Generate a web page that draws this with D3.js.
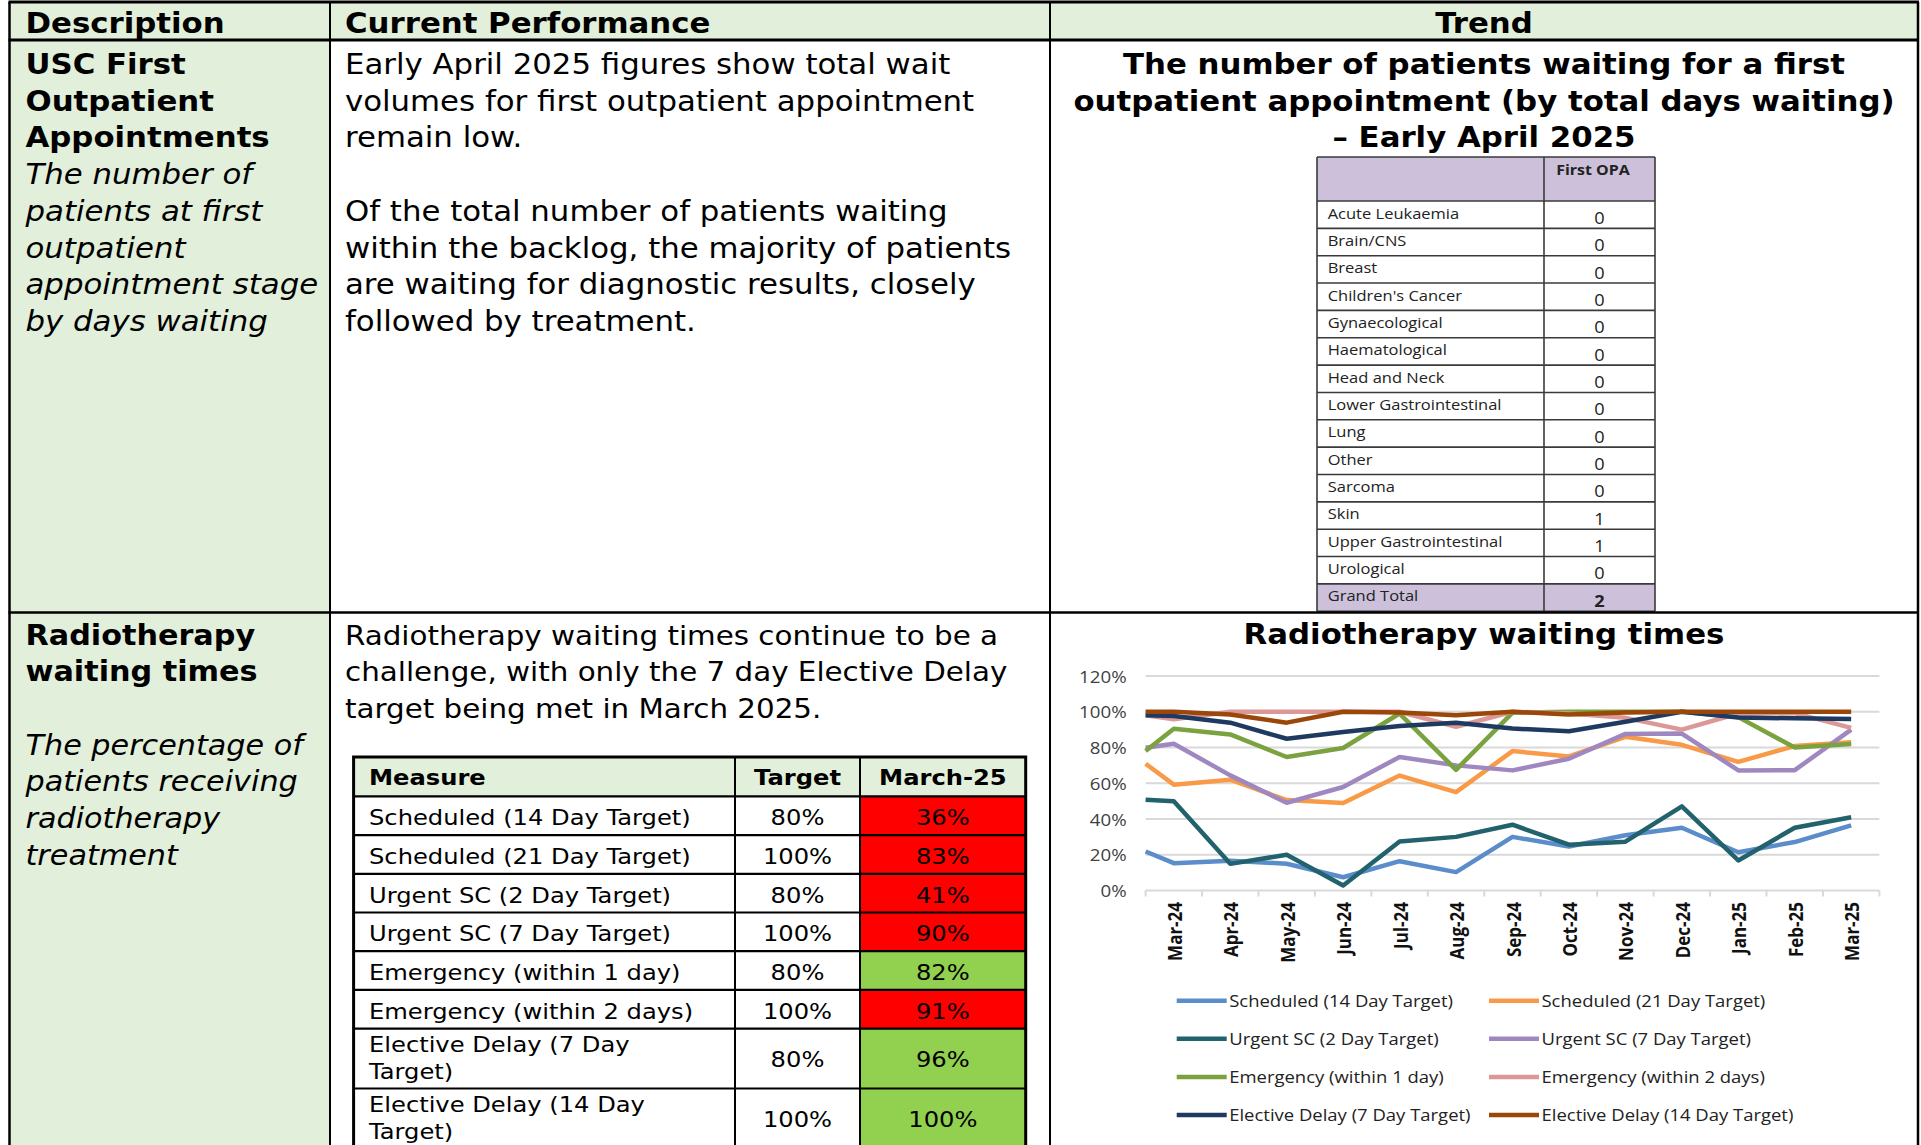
<!DOCTYPE html>
<html>
<head>
<meta charset="utf-8">
<script src="https://cdn.jsdelivr.net/npm/d3@7"></script>
<style>
html, body { margin: 0; padding: 0; background: #fff; }
svg { display: block; }
</style>
</head>
<body>
<div id="page"></div>
<script>
//Data

const headers = ["Description", "Current Performance", "Trend"]

const row1Title = ["USC First", "Outpatient", "Appointments"]
const row1Subtitle = ["The number of", "patients at first", "outpatient", "appointment stage", "by days waiting"]
const row1Text = [
	"Early April 2025 figures show total wait",
	"volumes for first outpatient appointment",
	"remain low.",
	"",
	"Of the total number of patients waiting",
	"within the backlog, the majority of patients",
	"are waiting for diagnostic results, closely",
	"followed by treatment."
]
const opaTitle = [
	"The number of patients waiting for a first",
	"outpatient appointment (by total days waiting)",
	"– Early April 2025"
]
const opaHeader = "First OPA"
const opaSites = ["Acute Leukaemia", "Brain/CNS", "Breast", "Children's Cancer", "Gynaecological",
	"Haematological", "Head and Neck", "Lower Gastrointestinal", "Lung", "Other", "Sarcoma", "Skin",
	"Upper Gastrointestinal", "Urological"]
const opaCounts = [0, 0, 0, 0, 0, 0, 0, 0, 0, 0, 0, 1, 1, 0]
const opaTotalLabel = "Grand Total"
const opaTotal = 2

const row2Title = ["Radiotherapy", "waiting times"]
const row2Subtitle = ["The percentage of", "patients receiving", "radiotherapy", "treatment"]
const row2Text = [
	"Radiotherapy waiting times continue to be a",
	"challenge, with only the 7 day Elective Delay",
	"target being met in March 2025."
]

const tableHeaders = ["Measure", "Target", "March-25"]
const measures = ["Scheduled (14 Day Target)", "Scheduled (21 Day Target)", "Urgent SC (2 Day Target)",
	"Urgent SC (7 Day Target)", "Emergency (within 1 day)", "Emergency (within 2 days)",
	"Elective Delay (7 Day Target)", "Elective Delay (14 Day Target)"]
const targets = [80, 100, 80, 100, 80, 100, 80, 100]
const march25 = [36, 83, 41, 90, 82, 91, 96, 100]

const chartTitle = "Radiotherapy waiting times"
const months = ["Mar-24", "Apr-24", "May-24", "Jun-24", "Jul-24", "Aug-24", "Sep-24",
	"Oct-24", "Nov-24", "Dec-24", "Jan-25", "Feb-25", "Mar-25"]
const yTicks = [0, 20, 40, 60, 80, 100, 120]

// values at the left edge of the plot (the lines run in from the previous month)
const leadIn = [21.8, 70.9, 50.8, 79.9, 78, 98, 98, 100]
const scheduled14 = [15.3, 16.7, 15, 7.4, 16.4, 10.3, 30, 24.6, 30.9, 35.1, 21.4, 27.1, 36.4]
const scheduled21 = [59.2, 62, 50.6, 48.9, 64.3, 55, 78, 75, 86, 81.5, 72, 80.8, 83]
const urgent2 = [49.9, 14.9, 20, 2.8, 27.4, 30, 36.8, 25.6, 27.3, 47.1, 16.8, 35.1, 41]
const urgent7 = [82.1, 64.4, 49.1, 57.9, 74.7, 70, 67.2, 73.7, 87.6, 87.8, 67.2, 67.3, 90]
const emergency1 = [90.5, 87.3, 74.7, 79.7, 99, 67.5, 99.5, 100, 100, 100, 97, 80, 82]
const emergency2 = [95.8, 100, 100, 100, 100, 91.6, 100, 99, 96.6, 90, 99, 99.2, 91]
const elective7 = [97.6, 93.9, 84.9, 88.7, 92, 93.8, 90.6, 89.1, 94.4, 100, 96.8, 96.3, 96]
const elective14 = [100, 98.5, 93.9, 100, 99.6, 98.1, 100, 98.5, 99.6, 100, 100, 100, 100]

const seriesValues = [scheduled14, scheduled21, urgent2, urgent7, emergency1, emergency2, elective7, elective14]
const seriesColors = ["#5b8dcb", "#f99a48", "#22626d", "#9f88c0", "#7aa23f", "#dc9896", "#1f3a60", "#9a4709"]

// Style

// the source screenshot is stretched sideways, text is scaled to match
const SX = 1.1
const VERDANA = "'DejaVu Sans', Verdana, sans-serif"
const CALIBRI = "'Open Sans', Calibri, sans-serif"
const GREEN_BG = "#e2efda"
const LAVENDER = "#ccc0da"
const LH = 36.7

const grid = { left: 9.5, col1: 330, col2: 1050, right: 1918, top: 2, head: 40, mid: 612.5, bottom: 1145 }

const svg = d3.select("#page")
	.append("svg")
	.attr("width", 1921)
	.attr("height", 1145)

/**
 * Adds a line of text, squeezed sideways like the source
 */
function addText(g, x, y, str, o = {}) {
	return g.append("text")
		.attr("transform", `translate(${x},${y}) scale(${SX},1)`)
		.attr("font-family", o.family || VERDANA)
		.attr("font-size", o.size || 28)
		.attr("font-weight", o.weight || "normal")
		.attr("font-style", o.style || "normal")
		.attr("text-anchor", o.anchor || "start")
		.attr("fill", o.fill || "#000")
		.text(str)
}

function addLines(g, x, y0, lines, lh, o) {
	lines.forEach((l, i) => {
		if (l) addText(g, x, y0 + i * lh, l, o)
	})
}

function hline(g, x1, x2, y, w, c) {
	g.append("line").attr("x1", x1).attr("x2", x2).attr("y1", y).attr("y2", y)
		.attr("stroke", c || "#000").attr("stroke-width", w)
}

function vline(g, x, y1, y2, w, c) {
	g.append("line").attr("x1", x).attr("x2", x).attr("y1", y1).attr("y2", y2)
		.attr("stroke", c || "#000").attr("stroke-width", w)
}

/**
 * Page grid: backgrounds, borders and header row
 */
function makeFrame() {
	svg.append("rect").attr("x", grid.left).attr("y", grid.top)
		.attr("width", grid.right - grid.left).attr("height", grid.head - grid.top)
		.attr("fill", GREEN_BG)
	svg.append("rect").attr("x", grid.left).attr("y", grid.head)
		.attr("width", grid.col1 - grid.left).attr("height", grid.bottom - grid.head)
		.attr("fill", GREEN_BG)

	addText(svg, 25.5, 33, headers[0], { weight: "bold" })
	addText(svg, 345, 33, headers[1], { weight: "bold" })
	addText(svg, (grid.col2 + grid.right) / 2, 33, headers[2], { weight: "bold", anchor: "middle" })
}

function makeBorders() {
	hline(svg, grid.left - 1, grid.right + 1, grid.top, 3)
	hline(svg, grid.left - 1, grid.right + 1, grid.head, 3)
	hline(svg, grid.left - 1, grid.right + 1, grid.mid, 2.5)
	vline(svg, grid.left, grid.top, grid.bottom, 2.5)
	vline(svg, grid.col1, grid.top, grid.bottom, 2)
	vline(svg, grid.col2, grid.top, grid.bottom, 2)
	vline(svg, grid.right, grid.top, grid.bottom, 2.5)
}

/**
 * The small First OPA table
 */
function makeOpaTable() {
	const t = { left: 1317, mid: 1544, right: 1655, top: 157, head: 201, rowH: 27.35 }
	const rows = opaSites.map((s, i) => ({ label: s, value: opaCounts[i], total: false }))
		.concat([{ label: opaTotalLabel, value: opaTotal, total: true }])
	const yRow = d3.scaleLinear().domain([0, rows.length]).range([t.head, t.head + rows.length * t.rowH])
	const g = svg.append("g")

	g.append("rect").attr("x", t.left).attr("y", t.top)
		.attr("width", t.right - t.left).attr("height", t.head - t.top).attr("fill", LAVENDER)
	g.selectAll("rect.row")
		.data(rows)
		.join("rect")
		.attr("class", "row")
		.attr("x", t.left).attr("y", (d, i) => yRow(i))
		.attr("width", t.right - t.left).attr("height", t.rowH)
		.attr("fill", d => d.total ? LAVENDER : "#fff")

	addText(g, 1593, t.top + 18, opaHeader, { family: CALIBRI, size: 14.5, weight: "bold", anchor: "middle", fill: "#222" })

	rows.forEach((d, i) => {
		addText(g, t.left + 10.7, yRow(i) + 17.5, d.label, { family: CALIBRI, size: 15, fill: "#222" })
		addText(g, (t.mid + t.right) / 2, yRow(i) + 22.8, d.value, {
			family: CALIBRI, size: 16.5, anchor: "middle", weight: d.total ? "bold" : "normal", fill: "#222"
		})
	})

	// borders
	d3.range(rows.length + 1).forEach(i => hline(g, t.left, t.right, yRow(i), 1.6, "#3a3a3a"))
	hline(g, t.left, t.right, t.top, 1.6, "#3a3a3a")
	vline(g, t.left, t.top, yRow(rows.length), 1.6, "#3a3a3a")
	vline(g, t.mid, t.top, yRow(rows.length), 1.6, "#3a3a3a")
	vline(g, t.right, t.top, yRow(rows.length), 1.6, "#3a3a3a")
}

/**
 * Splits a label into lines that fit the cell
 */
function wrapLabel(str, size, maxW) {
	const probe = svg.append("text").attr("font-family", VERDANA).attr("font-size", size)
	const words = str.split(" ")
	const lines = []
	let cur = ""
	words.forEach(w => {
		const test = cur ? cur + " " + w : w
		probe.text(test)
		if (probe.node().getComputedTextLength() * SX > maxW && cur) {
			lines.push(cur)
			cur = w
		} else {
			cur = test
		}
	})
	lines.push(cur)
	probe.remove()
	return lines
}

/**
 * Measure / Target / March-25 table
 */
function makeMeasureTable() {
	const t = { left: 353.6, c1: 735, c2: 860, right: 1025.7, top: 757, headH: 39.4, rowH: 38.7, lineH: 26.5, pad: 15.4 }
	const size = 22
	const g = svg.append("g")

	const rows = measures.map((m, i) => ({
		lines: wrapLabel(m, size, 338),
		target: targets[i],
		value: march25[i]
	}))
	let y = t.top + t.headH
	rows.forEach(r => {
		r.y = y
		r.h = r.lines.length > 1 ? t.rowH + 21.2 : t.rowH
		y += r.h
	})

	g.append("rect").attr("x", t.left).attr("y", t.top)
		.attr("width", t.right - t.left).attr("height", t.headH).attr("fill", GREEN_BG)
	g.selectAll("rect.status")
		.data(rows)
		.join("rect")
		.attr("class", "status")
		.attr("x", t.c2).attr("y", d => d.y)
		.attr("width", t.right - t.c2).attr("height", d => d.h)
		.attr("fill", d => d.value >= d.target ? "#92d050" : "#ff0000")

	addText(g, t.left + t.pad, t.top + 28, tableHeaders[0], { size, weight: "bold" })
	addText(g, (t.c1 + t.c2) / 2, t.top + 28, tableHeaders[1], { size, weight: "bold", anchor: "middle" })
	addText(g, (t.c2 + t.right) / 2, t.top + 28, tableHeaders[2], { size, weight: "bold", anchor: "middle" })

	rows.forEach(r => {
		if (r.lines.length > 1) {
			addLines(g, t.left + t.pad, r.y + 23.5, r.lines, t.lineH, { size })
		} else {
			addText(g, t.left + t.pad, r.y + 28.8, r.lines[0], { size })
		}
		const vy = r.lines.length > 1 ? r.y + r.h / 2 + 8.5 : r.y + 28.8
		addText(g, (t.c1 + t.c2) / 2, vy, r.target + "%", { size, anchor: "middle" })
		addText(g, (t.c2 + t.right) / 2, vy, r.value + "%", { size, anchor: "middle" })
	})

	// borders
	hline(g, t.left, t.right, t.top + t.headH, 2.2)
	rows.forEach(r => hline(g, t.left, t.right, r.y + r.h, 2.2))
	vline(g, t.c1, t.top, y, 2)
	vline(g, t.c2, t.top, y, 2)
	g.append("rect").attr("x", t.left).attr("y", t.top)
		.attr("width", t.right - t.left).attr("height", y - t.top)
		.attr("fill", "none").attr("stroke", "#000").attr("stroke-width", 3)
}

/**
 * Radiotherapy waiting times line chart
 */
function makeChart() {
	const plot = { left: 1145.6, right: 1879.4, top: 676, bottom: 890.5 }
	const x = d3.scaleBand().domain(months).range([plot.left, plot.right])
	const y = d3.scaleLinear().domain([0, 120]).range([plot.bottom, plot.top])
	const g = svg.append("g")

	addText(g, (grid.col2 + grid.right) / 2, 644, chartTitle, { weight: "bold", anchor: "middle" })

	// Gridlines
	g.append("g").selectAll("line")
		.data(yTicks)
		.join("line")
		.attr("x1", plot.left).attr("x2", plot.right)
		.attr("y1", d => y(d)).attr("y2", d => y(d))
		.attr("stroke", "#d9d9d9").attr("stroke-width", 2)

	// Category tick marks on the band edges
	g.append("g").selectAll("line")
		.data(months.map(m => x(m)).concat([plot.right]))
		.join("line")
		.attr("x1", d => d).attr("x2", d => d)
		.attr("y1", plot.bottom).attr("y2", plot.bottom + 6)
		.attr("stroke", "#d9d9d9").attr("stroke-width", 2)

	// Y axis
	const yAxis = g.append("g")
		.attr("transform", `translate(${plot.left},0)`)
		.call(d3.axisLeft(y).tickValues(yTicks).tickFormat(d => d + "%").tickSize(0))
	yAxis.select(".domain").remove()
	yAxis.selectAll("text")
		.attr("x", 0).attr("dy", "0.36em")
		.attr("transform", `translate(-19,0) scale(${SX},1)`)
		.attr("font-family", CALIBRI).attr("font-size", 17)
		.attr("fill", "#404040")

	// X axis
	const xAxis = g.append("g")
		.attr("transform", `translate(0,${plot.bottom})`)
		.call(d3.axisBottom(x).tickSize(0))
	xAxis.select(".domain").remove()
	xAxis.selectAll("text")
		.attr("x", 0).attr("y", 0).attr("dy", 0)
		.attr("text-anchor", "end")
		.attr("transform", `translate(8,11.5) scale(${SX},1) rotate(-90)`)
		.attr("font-family", CALIBRI).attr("font-size", 17).attr("font-weight", "bold")
		.attr("fill", "#111")

	// Lines
	const line = d3.line().x(d => d.x).y(d => y(d.v))
	seriesValues.forEach((vals, s) => {
		const pts = [{ x: x.range()[0], v: leadIn[s] }]
			.concat(vals.map((v, i) => ({ x: x(months[i]) + x.bandwidth() / 2, v: v })))
		g.append("path")
			.datum(pts)
			.attr("d", line)
			.attr("fill", "none")
			.attr("stroke", seriesColors[s])
			.attr("stroke-width", 4.5)
			.attr("stroke-linejoin", "round")
	})

	// Legend
	const leg = { x: [1176.7, 1489], y0: 1000.7, dy: 38.1, swatch: 50 }
	measures.forEach((name, i) => {
		const lx = leg.x[i % 2]
		const ly = leg.y0 + Math.floor(i / 2) * leg.dy
		hline(g, lx, lx + leg.swatch, ly, 4.5, seriesColors[i])
		addText(g, lx + leg.swatch + 2.5, ly + 6, name, { family: CALIBRI, size: 16.8, fill: "#222" })
	})
}

makeFrame()

addLines(svg, 25.5, 74, row1Title, LH, { weight: "bold" })
addLines(svg, 25.5, 74 + 3 * LH, row1Subtitle, LH, { style: "italic" })
addLines(svg, 345, 74, row1Text, LH)
addLines(svg, (grid.col2 + grid.right) / 2, 74, opaTitle, LH, { weight: "bold", anchor: "middle" })
makeOpaTable()

addLines(svg, 25.5, 644.5, row2Title, LH, { weight: "bold", size: 27.5 })
addLines(svg, 25.5, 644.5 + 3 * LH, row2Subtitle, LH, { style: "italic", size: 27.5 })
addLines(svg, 345, 644.5, row2Text, LH, { size: 26.7 })
makeMeasureTable()
makeChart()

makeBorders()
</script>
</body>
</html>
